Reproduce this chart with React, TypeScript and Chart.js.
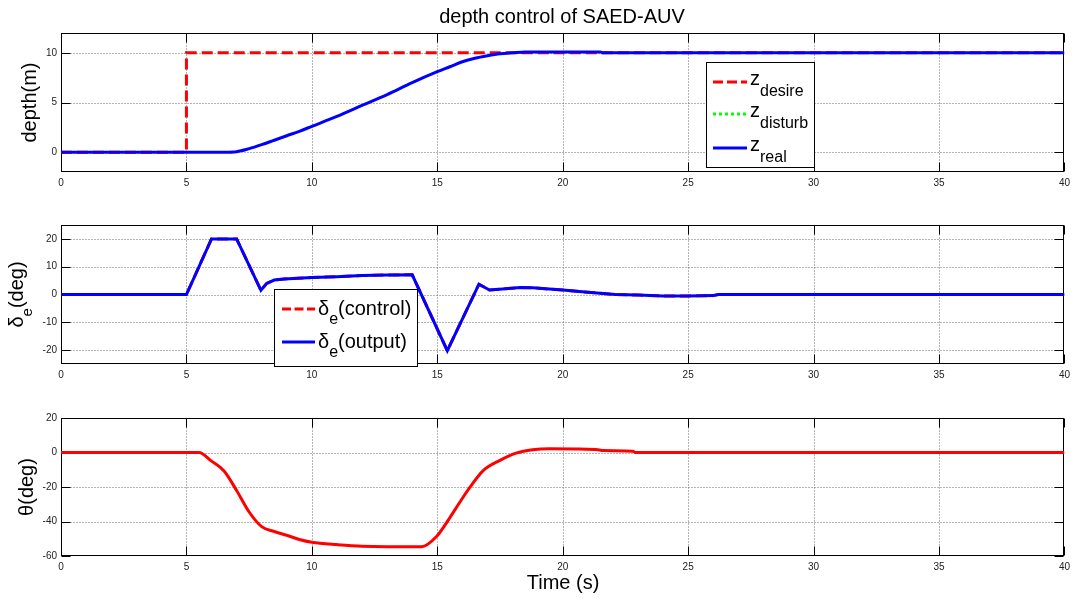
import React, { useEffect, useRef } from "react";
import { Chart, registerables } from "chart.js";

Chart.register(...registerables);

const FONT = "'Liberation Sans', Arial, Helvetica, sans-serif";

// ---------------- data ----------------
const timeTicks = [0, 5, 10, 15, 20, 25, 30, 35, 40];
const depthTicks = [0, 5, 10];
const deltaTicks = [-20, -10, 0, 10, 20];
const thetaTicks = [-60, -40, -20, 0, 20];

const desireTime = [0, 5, 5, 40];
const desireDepth = [0, 0, 10, 10];

const disturbTime: number[] = [];
const disturbDepth: number[] = [];

const realTime = [0, 6.5, 7, 7.5, 8, 8.5, 9, 9.5, 10, 11, 12, 13, 14, 15, 15.5, 16, 16.5, 17, 17.5, 18, 18.5, 21.5, 21.6, 40];
const realDepth = [0, 0, 0.05, 0.35, 0.75, 1.2, 1.65, 2.1, 2.6, 3.6, 4.7, 5.8, 7.0, 8.1, 8.6, 9.1, 9.45, 9.7, 9.9, 10.0, 10.08, 10.08, 10.0, 10.0];

const deltaTime = [0, 5, 6, 7, 7.97, 8.2, 8.5, 8.9, 10, 11, 12, 13, 14, 15.4, 16.66, 17.08, 17.6, 18.3, 18.8, 20, 21, 22.1, 23, 24, 25, 26, 26.2, 40];
const deltaControl = [0, 0, 20, 20, 1.5, 4.0, 5.2, 5.6, 6.1, 6.4, 6.8, 7.0, 7.1, -20.2, 3.7, 1.6, 2.0, 2.5, 2.4, 1.6, 0.8, 0, -0.2, -0.5, -0.5, -0.4, 0, 0];
const deltaOutput = [0, 0, 20, 20, 1.5, 4.0, 5.2, 5.6, 6.1, 6.4, 6.8, 7.0, 7.1, -20.2, 3.7, 1.6, 2.0, 2.5, 2.4, 1.6, 0.8, 0, -0.2, -0.5, -0.5, -0.4, 0, 0];

const thetaTime = [0, 5.5, 6, 6.5, 7, 7.5, 8, 8.5, 9, 9.5, 10, 11, 12, 14.37, 14.96, 15.49, 15.89, 16.29, 16.82, 17.48, 18.14, 18.8, 19.46, 20.53, 21.46, 21.6, 22.8, 22.9, 40];
const thetaDeg = [0, 0, -5, -10.7, -22, -34.5, -43, -45.8, -48, -50.4, -52, -53.4, -54.3, -54.6, -48.8, -38, -29, -20.4, -10.6, -4.7, -0.4, 1.6, 2.2, 2.1, 1.5, 1.1, 0.7, 0, 0];

const titleText = "depth control of SAED-AUV";
const xAxisTitle = "Time (s)";

type Part = { text: string; sub?: boolean };

const depthTitle: Part[] = [{ text: "depth(m)" }];
const deltaTitle: Part[] = [{ text: "δ" }, { text: "e", sub: true }, { text: "(deg)" }];
const thetaTitle: Part[] = [{ text: "θ(deg)" }];

const zLegend: Part[][] = [
  [{ text: "z" }, { text: "desire", sub: true }],
  [{ text: "z" }, { text: "disturb", sub: true }],
  [{ text: "z" }, { text: "real", sub: true }],
];
const deltaLegend: Part[][] = [
  [{ text: "δ" }, { text: "e", sub: true }, { text: "(control)" }],
  [{ text: "δ" }, { text: "e", sub: true }, { text: "(output)" }],
];

// ---------------- helpers ----------------
const pts = (xs: number[], ys: number[]) => xs.map((x, i) => ({ x, y: ys[i] }));

function partsWidth(ctx: CanvasRenderingContext2D, parts: Part[], main: number, sub: number) {
  let w = 0;
  for (const p of parts) {
    ctx.font = `${p.sub ? sub : main}px ${FONT}`;
    w += ctx.measureText(p.text).width;
  }
  return w;
}

function drawParts(ctx: CanvasRenderingContext2D, parts: Part[], x: number, y: number, main: number, sub: number, drop: number) {
  let cx = x;
  ctx.textBaseline = "alphabetic";
  ctx.textAlign = "left";
  for (const p of parts) {
    ctx.font = `${p.sub ? sub : main}px ${FONT}`;
    ctx.fillText(p.text, cx, y + (p.sub ? drop : 0));
    cx += ctx.measureText(p.text).width;
  }
}

type LegendItem = { color: string; dash: number[]; lineY: number; parts: Part[] };
type LegendCfg = {
  box: { x: number; y: number; w: number; h: number };
  lineX1: number;
  lineX2: number;
  textX: number;
  baseOff: number;
  drop: number;
  items: LegendItem[];
};

type PanelCfg = {
  height: number;
  areaTop: number;
  areaBottom: number;
  yMin: number;
  yMax: number;
  yTicks: number[];
  yTitle: Part[];
  yTitleX: number;
  yTitleDrop: number;
  datasets: any[];
  legend?: LegendCfg;
  title?: { text: string; x: number; y: number; size: number };
  xTitle?: { text: string; x: number; y: number; size: number };
};

function framePlugin(cfg: PanelCfg) {
  return {
    id: "matlabFrame",
    beforeDatasetsDraw(chart: any) {
      const { ctx, chartArea: a, scales } = chart;
      const xs = scales.x;
      const ys = scales.y;
      const L = Math.round(a.left) + 0.5;
      const R = Math.round(a.right) - 0.5;
      const T = Math.round(a.top) + 0.5;
      const B = Math.round(a.bottom) - 0.5;
      ctx.save();
      // dotted grid
      ctx.strokeStyle = "#6a6a6a";
      ctx.lineWidth = 1;
      ctx.setLineDash([1, 2]);
      ctx.beginPath();
      xs.ticks.forEach((t: any) => {
        const px = Math.round(xs.getPixelForValue(t.value)) + 0.5;
        if (px > L + 1 && px < R - 1) {
          ctx.moveTo(px, T);
          ctx.lineTo(px, B);
        }
      });
      ys.ticks.forEach((t: any) => {
        const py = Math.round(ys.getPixelForValue(t.value)) + 0.5;
        if (py > T + 1 && py < B - 1) {
          ctx.moveTo(L, py);
          ctx.lineTo(R, py);
        }
      });
      ctx.stroke();
      ctx.setLineDash([]);
      // box
      ctx.strokeStyle = "#000";
      ctx.lineWidth = 1;
      ctx.strokeRect(L, T, R - L, B - T);
      // inward ticks
      const tl = 9;
      ctx.beginPath();
      xs.ticks.forEach((t: any) => {
        const px = Math.round(xs.getPixelForValue(t.value)) + 0.5;
        ctx.moveTo(px, T);
        ctx.lineTo(px, T + tl);
        ctx.moveTo(px, B);
        ctx.lineTo(px, B - tl);
      });
      ys.ticks.forEach((t: any) => {
        const py = Math.round(ys.getPixelForValue(t.value)) + 0.5;
        ctx.moveTo(L, py);
        ctx.lineTo(L + tl, py);
        ctx.moveTo(R, py);
        ctx.lineTo(R - tl, py);
      });
      ctx.stroke();
      ctx.restore();
    },
    afterDraw(chart: any) {
      const { ctx, chartArea: a } = chart;
      ctx.save();
      ctx.fillStyle = "#000";
      const cy = (a.top + a.bottom) / 2;
      const w = partsWidth(ctx, cfg.yTitle, 20, 15);
      ctx.save();
      ctx.translate(cfg.yTitleX, cy);
      ctx.rotate(-Math.PI / 2);
      drawParts(ctx, cfg.yTitle, -w / 2, 0, 20, 15, cfg.yTitleDrop);
      ctx.restore();
      if (cfg.title) {
        ctx.font = `${cfg.title.size}px ${FONT}`;
        ctx.textAlign = "center";
        ctx.textBaseline = "alphabetic";
        ctx.fillText(cfg.title.text, cfg.title.x, cfg.title.y);
      }
      if (cfg.xTitle) {
        ctx.font = `${cfg.xTitle.size}px ${FONT}`;
        ctx.textAlign = "center";
        ctx.textBaseline = "alphabetic";
        ctx.fillText(cfg.xTitle.text, cfg.xTitle.x, cfg.xTitle.y);
      }
      const lg = cfg.legend;
      if (lg) {
        ctx.fillStyle = "#fff";
        ctx.fillRect(lg.box.x, lg.box.y, lg.box.w, lg.box.h);
        ctx.strokeStyle = "#000";
        ctx.lineWidth = 1;
        ctx.strokeRect(lg.box.x + 0.5, lg.box.y + 0.5, lg.box.w, lg.box.h);
        lg.items.forEach((it) => {
          ctx.save();
          ctx.strokeStyle = it.color;
          ctx.lineWidth = 3;
          ctx.lineCap = "butt";
          ctx.setLineDash(it.dash);
          ctx.beginPath();
          ctx.moveTo(lg.lineX1, it.lineY);
          ctx.lineTo(lg.lineX2, it.lineY);
          ctx.stroke();
          ctx.restore();
          ctx.fillStyle = "#000";
          drawParts(ctx, it.parts, lg.textX, it.lineY + lg.baseOff, 20, 16, lg.drop);
        });
      }
      ctx.restore();
    },
  };
}

function makeChart(canvas: HTMLCanvasElement, cfg: PanelCfg) {
  const tickFont = { family: FONT, size: 10 };
  return new Chart(canvas, {
    type: "line",
    data: { datasets: cfg.datasets },
    options: {
      animation: false,
      responsive: false,
      maintainAspectRatio: false,
      events: [],
      layout: { padding: { top: cfg.areaTop, right: 9, left: 0, bottom: 0 } },
      plugins: { legend: { display: false }, tooltip: { enabled: false }, title: { display: false } },
      elements: { point: { radius: 0 } },
      scales: {
        x: {
          type: "linear",
          min: timeTicks[0],
          max: timeTicks[timeTicks.length - 1],
          afterFit: (s: any) => {
            s.height = cfg.height - cfg.areaBottom;
          },
          afterBuildTicks: (s: any) => {
            s.ticks = timeTicks.map((v) => ({ value: v }));
          },
          grid: { display: false, drawTicks: false },
          border: { display: false },
          ticks: { padding: 5, font: tickFont, color: "#222", maxRotation: 0, autoSkip: false },
        },
        y: {
          type: "linear",
          min: cfg.yMin,
          max: cfg.yMax,
          afterFit: (s: any) => {
            s.width = 61;
          },
          afterBuildTicks: (s: any) => {
            s.ticks = cfg.yTicks.map((v) => ({ value: v }));
          },
          grid: { display: false, drawTicks: false },
          border: { display: false },
          ticks: { padding: 4, font: tickFont, color: "#222", autoSkip: false },
        },
      },
    } as any,
    plugins: [framePlugin(cfg) as any],
  });
}

const RED = "#ff0000";
const BLUE = "#0000ff";
const GREEN = "#00ff00";

const topCfg: PanelCfg = {
  height: 195,
  areaTop: 33,
  areaBottom: 172,
  yMin: -2,
  yMax: 12,
  yTicks: depthTicks,
  yTitle: depthTitle,
  yTitleX: 36,
  yTitleDrop: 0,
  datasets: [
    { label: "z_real", data: pts(realTime, realDepth), borderColor: BLUE, borderWidth: 3, pointRadius: 0, cubicInterpolationMode: "monotone", order: 0 },
    { label: "z_disturb", data: pts(disturbTime, disturbDepth), borderColor: GREEN, borderWidth: 3, borderDash: [3, 3], pointRadius: 0, order: 1 },
    { label: "z_desire", data: pts(desireTime, desireDepth), borderColor: RED, borderWidth: 3, borderDash: [11, 5], pointRadius: 0, tension: 0, order: 2 },
  ],
  title: { text: titleText, x: 562, y: 23, size: 20 },
  legend: {
    box: { x: 706, y: 62, w: 108, h: 105 },
    lineX1: 713,
    lineX2: 747,
    textX: 750,
    baseOff: 3,
    drop: 10.5,
    items: [
      { color: RED, dash: [10, 4], lineY: 82, parts: zLegend[0] },
      { color: GREEN, dash: [3, 3], lineY: 114, parts: zLegend[1] },
      { color: BLUE, dash: [], lineY: 148, parts: zLegend[2] },
    ],
  },
};

const midCfg: PanelCfg = {
  height: 195,
  areaTop: 30,
  areaBottom: 169,
  yMin: -25,
  yMax: 25,
  yTicks: deltaTicks,
  yTitle: deltaTitle,
  yTitleX: 23,
  yTitleDrop: 9,
  datasets: [
    { label: "delta_output", data: pts(deltaTime, deltaOutput), borderColor: BLUE, borderWidth: 3, pointRadius: 0, tension: 0, order: 0 },
    { label: "delta_control", data: pts(deltaTime, deltaControl), borderColor: RED, borderWidth: 3, borderDash: [11, 5], pointRadius: 0, tension: 0, order: 1 },
  ],
  legend: {
    box: { x: 274, y: 94, w: 143, h: 77 },
    lineX1: 282,
    lineX2: 315,
    textX: 318,
    baseOff: 6,
    drop: 8.5,
    items: [
      { color: RED, dash: [9, 3.5], lineY: 114, parts: deltaLegend[0] },
      { color: BLUE, dash: [], lineY: 147, parts: deltaLegend[1] },
    ],
  },
};

const botCfg: PanelCfg = {
  height: 211,
  areaTop: 28,
  areaBottom: 166,
  yMin: -60,
  yMax: 20,
  yTicks: thetaTicks,
  yTitle: thetaTitle,
  yTitleX: 33,
  yTitleDrop: 0,
  datasets: [
    { label: "theta", data: pts(thetaTime, thetaDeg), borderColor: RED, borderWidth: 3, pointRadius: 0, cubicInterpolationMode: "monotone", order: 0 },
  ],
  xTitle: { text: xAxisTitle, x: 563, y: 199, size: 20 },
};

export default function App() {
  const r1 = useRef<HTMLCanvasElement>(null);
  const r2 = useRef<HTMLCanvasElement>(null);
  const r3 = useRef<HTMLCanvasElement>(null);

  useEffect(() => {
    const charts = [
      makeChart(r1.current as HTMLCanvasElement, topCfg),
      makeChart(r2.current as HTMLCanvasElement, midCfg),
      makeChart(r3.current as HTMLCanvasElement, botCfg),
    ];
    return () => charts.forEach((c) => c.destroy());
  }, []);

  return (
    <div style={{ position: "absolute", left: 0, top: 0, width: 1075, height: 601, background: "#fff", overflow: "hidden" }}>
      <canvas ref={r1} width={1075} height={195} style={{ position: "absolute", left: 0, top: 0, width: 1075, height: 195 }} />
      <canvas ref={r2} width={1075} height={195} style={{ position: "absolute", left: 0, top: 195, width: 1075, height: 195 }} />
      <canvas ref={r3} width={1075} height={211} style={{ position: "absolute", left: 0, top: 390, width: 1075, height: 211 }} />
    </div>
  );
}
